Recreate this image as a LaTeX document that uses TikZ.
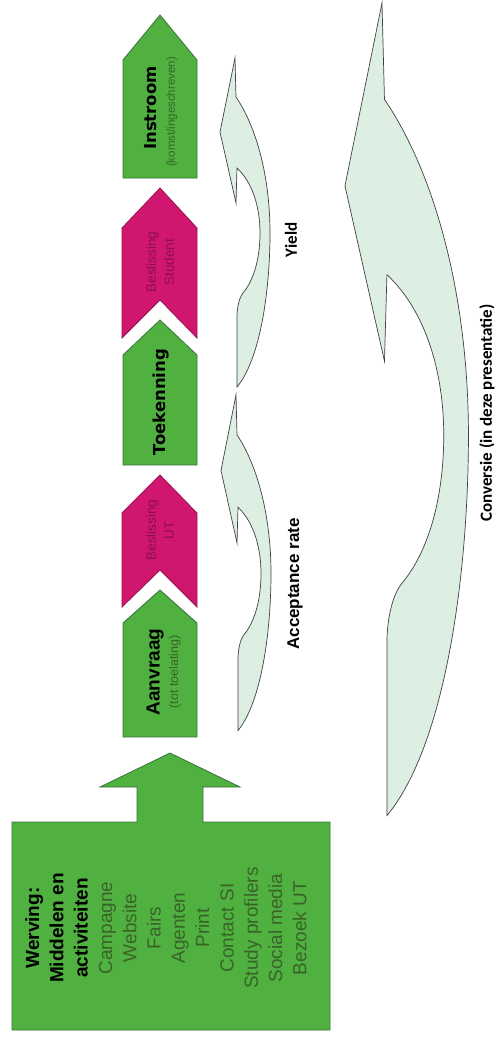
\documentclass[tikz,border=0pt]{standalone}
\usepackage{fontspec}
\setmainfont{Liberation Sans}
\newfontfamily\calfont{Carlito}
\newfontfamily\tahfont{DejaVu Sans}
\definecolor{stepgreen}{RGB}{80,176,64}
\definecolor{stepgreenline}{RGB}{58,116,60}
\definecolor{stepred}{RGB}{208,22,110}
\definecolor{stepredline}{RGB}{150,20,80}
\definecolor{stepredtext}{RGB}{140,16,76}
\definecolor{paletext}{RGB}{56,100,40}
\definecolor{bendfill}{RGB}{221,238,226}
\newcommand{\bendarrow}{(0,0) -- (-15,74) -- (1,145) -- (2,110)
  .. controls (18,125) and (25,150) .. (25,175)
  .. controls (25,200) and (19,222) .. (8,235)
  .. controls (4,240) and (2,250) .. (2,259)
  -- (2,329)
  .. controls (26,300) and (35,230) .. (35,175)
  .. controls (35,120) and (22,70) .. (1,39) -- cycle}
\begin{document}
\begin{tikzpicture}[x=1pt,y=-1pt,
	greenstep/.style={fill=stepgreen,draw=stepgreenline,line width=0.8},
	redstep/.style={fill=stepred,draw=stepredline,line width=0.8},
	bendshape/.style={fill=bendfill,draw=black!75,line width=0.7},
	lbl/.style={rotate=90,font=\fontsize{17}{20}\selectfont\bfseries,inner sep=0}]
	\useasboundingbox (0,0) rectangle (496,1037);
	% werving box with arrow up
	\draw[greenstep] (12,822) -- (137,822) -- (137,787) -- (100,787) -- (170,753) -- (240,787) -- (203,787) -- (203,822) -- (330,822) -- (330,1030) -- (12,1030) -- cycle;
	\node (werving) at (166,928) [rotate=90,align=center,font=\fontsize{19}{24.3}\selectfont,inner sep=0] {\textbf{Werving:}\\\textbf{Middelen en}\\\textbf{activiteiten}\\\color{paletext}Campagne\\\color{paletext}Website\\\color{paletext}Fairs\\\color{paletext}Agenten\\\color{paletext}Print\\\color{paletext}Contact SI\\\color{paletext}Study profilers\\\color{paletext}Social media\\\color{paletext}Bezoek UT};
	% steps
	\draw[greenstep] (123,623) -- (160,590) -- (197,623) -- (197,737) -- (123,737) -- cycle;
	\draw[redstep] (122,513) -- (160,475) -- (197,513) -- (197,607) -- (160,570) -- (122,607) -- cycle;
	\draw[greenstep] (123,355) -- (160,320) -- (197,355) -- (197,465) -- (123,465) -- cycle;
	\draw[redstep] (122,228) -- (160,188) -- (197,228) -- (197,338) -- (160,300) -- (122,338) -- cycle;
	\draw[greenstep] (123,60) -- (160,15) -- (197,60) -- (197,178) -- (123,178) -- cycle;
	\node (aanvraag) at (155,672) [rotate=90,font=\fontsize{19}{20}\selectfont\bfseries,inner sep=0] {Aanvraag};
	\node (aanvraagsub) at (175,672) [rotate=90,font=\fontsize{12.5}{14}\selectfont,text=paletext,inner sep=0] {(tot toelating)};
	\node (besluitut) at (160,530) [rotate=90,align=center,font=\fontsize{13.5}{18}\selectfont,text=stepredtext,inner sep=0] {Beslissing\\UT};
	\node (toekenning) at (161,402) [rotate=90,font=\tahfont\fontsize{16.5}{20}\selectfont\bfseries,inner sep=0] {Toekenning};
	\node (besluitstud) at (160,262) [rotate=90,align=center,font=\fontsize{13.5}{18}\selectfont,text=stepredtext,inner sep=0] {Beslissing\\Student};
	\node (instroom) at (151,108) [rotate=90,font=\tahfont\fontsize{16.5}{20}\selectfont\bfseries,inner sep=0] {Instroom};
	\node (instroomsub) at (172,112) [rotate=90,font=\fontsize{11.5}{13}\selectfont,text=paletext,inner sep=0] {(komst/ingeschreven)};
	% curved arrows
	\begin{scope}[shift={(235,58)}]
		\draw[bendshape] \bendarrow;
	\end{scope}
	\begin{scope}[shift={(236,395)},yscale=1.02]
		\draw[bendshape] \bendarrow;
	\end{scope}
	\begin{scope}[shift={(382,3)},scale=2.47]
		\draw[bendshape] \bendarrow;
	\end{scope}
	\node (yield) at (291,240) [lbl,font=\calfont\fontsize{17}{20}\selectfont\bfseries] {Yield};
	\node (accept) at (295,584) [lbl] {Acceptance rate};
	\node (conversie) at (487,413) [lbl,font=\calfont\fontsize{17}{20}\selectfont\bfseries] {Conversie (in deze presentatie)};
\end{tikzpicture}
\end{document}
